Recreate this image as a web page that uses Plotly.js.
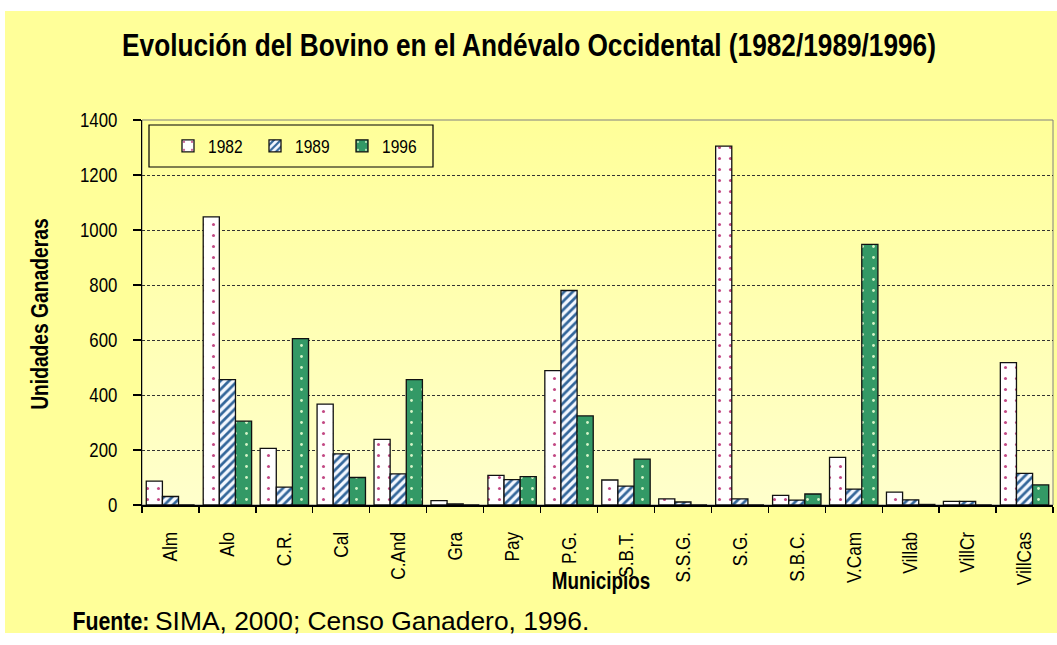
<!DOCTYPE html>
<html>
<head>
<meta charset="utf-8">
<script src="https://cdn.plot.ly/plotly-3.0.1.min.js"></script>
<style>
  html, body { margin: 0; padding: 0; background: #ffffff; }
  #frame { position: absolute; left: 5px; top: 11px; width: 1052px; height: 622px; background: #FFFF99; }
  #plotbg { position: absolute; left: 142px; top: 120px; width: 911px; height: 385px;
            background: linear-gradient(to bottom, #FFFF99 0%, #FFFFCC 100%); }
  #chart { position: absolute; left: 0; top: 0; width: 1057px; height: 645px; }
</style>
</head>
<body>
<div id="frame"></div>
<div id="plotbg"></div>
<div id="chart"></div>
<script>
// ---- data ----
const municipios = ['Alm','Alo','C.R.','Cal','C.And','Gra','Pay','P.G.','S.B.T.','S.S.G.','S.G.','S.B.C.','V.Cam','Villab','VillCr','VillCas'];
const v1982 = [87, 1048, 206, 367, 239, 16, 108, 489, 91, 22, 1305, 35, 173, 47, 13, 518];
const v1989 = [31, 456, 65, 186, 113, 4, 92, 780, 69, 11, 22, 18, 58, 19, 13, 115];
const v1996 = [0, 305, 605, 100, 456, 0, 103, 324, 167, 0, 0, 40, 948, 2, 0, 73];
const seriesNames = ['1982', '1989', '1996'];
const yTicks = [0, 200, 400, 600, 800, 1000, 1200, 1400];
const footerText = 'SIMA, 2000; Censo Ganadero, 1996.';

// ---- layout helpers ----
const W = 1057, H = 645;
const L = 142, R = 4, T = 120, B = 140;
const PW = W - L - R, PH = H - T - B;
const px = x => (x - L) / PW;
const py = y => (H - B - y) / PH;

const SANS = '"Liberation Sans", Arial, sans-serif';
const NARROW_SCALE = 0.82;   // emulate Arial Narrow

const lineStyle = {color: '#111111', width: 1.3};

const traces = [
  {
    type: 'bar', name: seriesNames[0], x: municipios, y: v1982,
    marker: {color: '#ffffff', line: lineStyle,
      pattern: {shape: '.', fgcolor: '#c24884', bgcolor: '#ffffff', size: 11, solidity: 0.06}}
  },
  {
    type: 'bar', name: seriesNames[1], x: municipios, y: v1989,
    marker: {color: '#ffffff', line: lineStyle,
      pattern: {shape: '/', fgcolor: '#33669a', bgcolor: '#f4f8ff', size: 6, solidity: 0.45}}
  },
  {
    type: 'bar', name: seriesNames[2], x: municipios, y: v1996,
    marker: {color: '#339966', line: lineStyle,
      pattern: {shape: '.', fgcolor: '#d6f5c8', bgcolor: '#339966', size: 11, solidity: 0.05}}
  }
];

const layout = {
  width: W, height: H,
  margin: {l: L, r: R, t: T, b: B, pad: 0},
  paper_bgcolor: 'rgba(0,0,0,0)',
  plot_bgcolor: 'rgba(0,0,0,0)',
  barmode: 'group', bargap: 0.15, bargroupgap: 0,
  title: {
    text: 'Evolución del Bovino en el Andévalo Occidental (1982/1989/1996)',
    font: {family: SANS, size: 32, color: '#000000', weight: 'bold'},
    x: 529 / W, xanchor: 'center', xref: 'container',
    y: 1 - 45 / H, yanchor: 'middle', yref: 'container'
  },
  xaxis: {
    type: 'category',
    showline: true, linecolor: '#000000', linewidth: 1.5,
    ticks: 'outside', tickson: 'boundaries', ticklen: 6, tickcolor: '#000000', tickwidth: 1.3,
    tickangle: -90, ticklabelstandoff: 17,
    tickfont: {family: SANS, size: 21, color: '#000000'},
    showgrid: false, zeroline: false, fixedrange: true
  },
  yaxis: {
    range: [0, 1400], tickvals: yTicks, ticktext: yTicks.map(String),
    showline: true, linecolor: '#000000', linewidth: 1.5,
    ticks: 'outside', ticklen: 8, tickcolor: '#000000', tickwidth: 1.3,
    ticklabelstandoff: 11,
    tickfont: {family: SANS, size: 20.5, color: '#000000'},
    showgrid: true, gridcolor: '#333333', gridwidth: 1, griddash: '3px,2px',
    zeroline: false, fixedrange: true
  },
  showlegend: true,
  legend: {
    orientation: 'h', x: px(168), y: py(127), xanchor: 'left', yanchor: 'top',
    bgcolor: 'rgba(0,0,0,0)', borderwidth: 0,
    entrywidth: 42, entrywidthmode: 'pixels', itemwidth: 30,
    font: {family: SANS, size: 19, color: '#000000'}
  },
  shapes: [
    {type: 'rect', xref: 'paper', yref: 'paper', x0: 0, x1: 1, y0: 0, y1: 1,
     line: {color: '#808080', width: 1}, layer: 'below'},
    {type: 'rect', xref: 'paper', yref: 'paper', x0: px(149), x1: px(433), y0: py(167), y1: py(125),
     line: {color: '#000000', width: 1.2}, fillcolor: 'rgba(0,0,0,0)'}
  ],
  annotations: [
    {text: '<b>Unidades Ganaderas</b>', xref: 'paper', yref: 'paper', x: px(40), y: py(314),
     xanchor: 'center', yanchor: 'middle', textangle: -90, showarrow: false,
     font: {family: SANS, size: 23.5, color: '#000000'}},
    {text: '<b>Municipios</b>', xref: 'paper', yref: 'paper', x: px(601), y: py(581),
     xanchor: 'center', yanchor: 'middle', showarrow: false,
     font: {family: SANS, size: 23, color: '#000000'}},
    {text: '<b>Fuente:</b>', xref: 'paper', yref: 'paper', x: px(111), y: py(621),
     xanchor: 'center', yanchor: 'middle', showarrow: false,
     font: {family: SANS, size: 26, color: '#000000'}},
    {text: footerText, xref: 'paper', yref: 'paper', x: px(153), y: py(621),
     xanchor: 'left', yanchor: 'middle', showarrow: false,
     font: {family: SANS, size: 26.4, color: '#000000'}}
  ]
};

// Compress text horizontally (along its own direction) to emulate a narrow face.
function narrowTexts(gd) {
  gd.querySelectorAll('svg text').forEach(t => {
    if (t.textContent.trim() === footerText) return;
    if (!t.textContent.trim()) return;
    const bb = t.getBBox();
    const anchor = t.getAttribute('text-anchor') || 'start';
    let ax = bb.x;
    if (anchor === 'middle') ax = bb.x + bb.width / 2;
    else if (anchor === 'end') ax = bb.x + bb.width;
    const prev = t.getAttribute('transform') || '';
    t.setAttribute('transform',
      (prev + ' translate(' + ax + ',0) scale(' + NARROW_SCALE + ',1) translate(' + (-ax) + ',0)').trim());
  });
}

Plotly.newPlot('chart', traces, layout, {displayModeBar: false, staticPlot: true})
  .then(gd => narrowTexts(gd));
</script>
</body>
</html>
